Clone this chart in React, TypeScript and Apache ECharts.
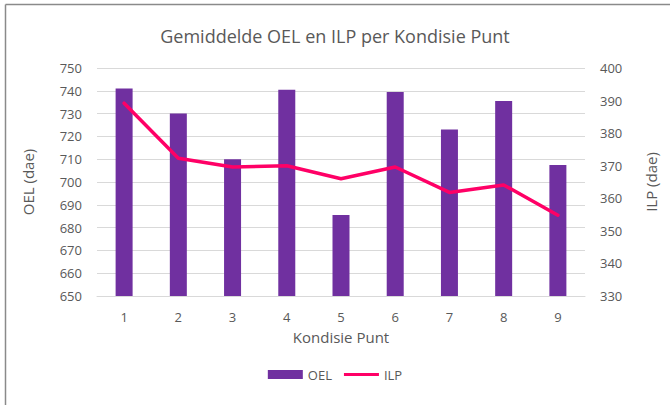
import React, { useEffect, useRef } from "react";
import * as echarts from "echarts";

const categories = ["1", "2", "3", "4", "5", "6", "7", "8", "9"];
const oelValues = [741, 730, 710, 740.5, 685.5, 739.5, 723, 735.5, 707.5];
const ilpValues = [389.2, 372.3, 369.6, 370, 366, 369.6, 361.8, 364.1, 354.8];

const TEXT = "#595959";
const FONT = "Open Sans";

export default function App() {
  const ref = useRef<HTMLDivElement>(null);
  useEffect(() => {
    if (!ref.current) return;
    const chart = echarts.init(ref.current, undefined, { renderer: "svg" });
    chart.setOption({
      animation: false,
      backgroundColor: "#ffffff",
      textStyle: { fontFamily: FONT, color: TEXT },
      title: {
        text: "Gemiddelde OEL en ILP per Kondisie Punt",
        left: "center",
        top: 22,
        textStyle: { fontFamily: FONT, fontSize: 18, fontWeight: "normal", color: TEXT },
      },
      graphic: [
        { type: "line", shape: { x1: 5.5, y1: 4.5, x2: 670, y2: 4.5 }, style: { stroke: "#8a8a8a", lineWidth: 1.5 } },
        { type: "line", shape: { x1: 5.5, y1: 4.5, x2: 5.5, y2: 405 }, style: { stroke: "#8a8a8a", lineWidth: 1.5 } },
      ],
      legend: {
        bottom: 19,
        left: "center",
        itemGap: 12,
        itemWidth: 35,
        itemHeight: 9,
        textStyle: { fontFamily: FONT, fontSize: 13, color: TEXT },
        data: [
          { name: "OEL", icon: "rect" },
          { name: "ILP", icon: "path://M0,0 L35,0 L35,3 L0,3 Z" },
        ],
      },
      grid: { left: 97, right: 85, top: 68, bottom: 109 },
      xAxis: {
        type: "category",
        data: categories,
        name: "Kondisie Punt",
        nameLocation: "middle",
        nameGap: 33,
        nameTextStyle: { fontFamily: FONT, fontSize: 15, color: TEXT },
        axisLine: { lineStyle: { color: "#d9d9d9" } },
        axisTick: { show: false },
        axisLabel: { fontFamily: FONT, fontSize: 13, color: TEXT, margin: 14 },
      },
      yAxis: [
        {
          type: "value",
          min: 650,
          max: 750,
          interval: 10,
          name: "OEL (dae)",
          nameLocation: "middle",
          nameGap: 62,
          nameTextStyle: { fontFamily: FONT, fontSize: 15, color: TEXT },
          axisLine: { show: false },
          axisTick: { show: false },
          axisLabel: { fontFamily: FONT, fontSize: 13, color: TEXT, margin: 15 },
          splitLine: { lineStyle: { color: "#d9d9d9" } },
        },
        {
          type: "value",
          min: 330,
          max: 400,
          interval: 10,
          name: "ILP (dae)",
          nameLocation: "middle",
          nameGap: 58,
          nameTextStyle: { fontFamily: FONT, fontSize: 15, color: TEXT },
          axisLine: { show: false },
          axisTick: { show: false },
          axisLabel: { fontFamily: FONT, fontSize: 13, color: TEXT, margin: 15 },
          splitLine: { show: false },
        },
      ],
      series: [
        {
          name: "OEL",
          type: "bar",
          data: oelValues,
          barWidth: 17,
          itemStyle: { color: "#7030A0" },
        },
        {
          name: "ILP",
          type: "line",
          yAxisIndex: 1,
          data: ilpValues,
          symbol: "none",
          lineStyle: { color: "#FF0066", width: 3.5, join: "round", cap: "round" },
          itemStyle: { color: "#FF0066" },
        },
      ],
    });
    return () => chart.dispose();
  }, []);
  return <div ref={ref} style={{ width: 670, height: 405, position: "absolute", left: 0, top: 0 }} />;
}
